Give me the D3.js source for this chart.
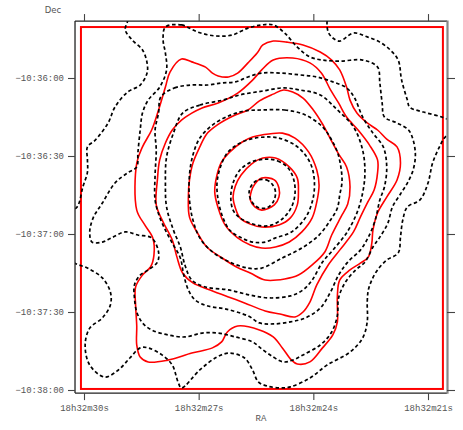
<!DOCTYPE html>
<html><head><meta charset="utf-8">
<script src="https://cdn.jsdelivr.net/npm/d3@7"></script>
<style>html,body{margin:0;padding:0;background:#fff;} svg{display:block;}</style>
</head><body>
<svg id="chart" width="463" height="430"></svg>
<script>
// RA: seconds past 18h32m ; Dec: arcsec south of -10°36'00"
const raTicks = [30, 27, 24, 21];
const raTickLabels = ["18h32m30s", "18h32m27s", "18h32m24s", "18h32m21s"];
const decTicks = [0, 30, 60, 90, 120];
const decTickLabels = ["\u221210:36:00", "\u221210:36:30", "\u221210:37:00", "\u221210:37:30", "\u221210:38:00"];
const raLimits = [30.235, 20.503];
const decLimits = [-21.9, 121.2];
const footprintRA = [30.08, 20.61];
const footprintDec = [-19.6, 119.6];

// red (solid) contours, inner to outer
const R1 = [[25.35,38.5],[25.02,39.2],[24.90,42.3],[24.90,45.8],[25.02,48.8],[25.35,50.8],[25.53,49.6],[25.65,46.9],[25.62,43.5],[25.53,40.8]];
const R2 = [[25.32,30.8],[24.99,30.8],[24.63,34.2],[24.42,38.5],[24.39,43.8],[24.42,48.8],[24.60,53.8],[24.90,56.5],[25.35,57.3],[25.65,56.2],[25.92,53.8],[26.04,50.0],[26.10,45.8],[26.04,41.5],[25.89,37.3],[25.62,33.1]];
const R3 = [[25.35,21.9],[24.81,21.2],[24.48,23.1],[24.12,28.5],[23.91,35.4],[23.85,41.2],[23.91,47.7],[24.03,53.8],[24.30,59.2],[24.63,63.1],[24.99,65.0],[25.35,65.4],[25.65,64.2],[25.98,61.5],[26.31,56.5],[26.49,50.0],[26.58,43.8],[26.52,37.3],[26.40,32.3],[26.19,28.5],[25.86,24.6],[25.59,22.7]];
const R4 = [[25.71,12.3],[25.41,8.8],[25.05,6.2],[24.78,4.6],[24.54,5.4],[24.27,7.7],[24.00,12.3],[23.76,17.7],[23.55,23.5],[23.34,29.2],[23.13,34.2],[23.04,41.9],[23.10,48.5],[23.28,53.5],[23.52,60.4],[23.70,66.9],[24.03,71.9],[24.39,75.8],[24.75,77.3],[25.26,77.7],[25.65,75.0],[26.01,72.7],[26.43,68.8],[26.79,65.0],[27.03,59.6],[27.24,53.5],[27.27,45.8],[27.24,39.2],[27.15,32.7],[26.97,26.5],[26.79,21.5],[26.52,18.1],[26.10,14.6]];
const R5 = [[27.69,20.0],[27.45,16.2],[27.18,13.5],[26.91,11.5],[26.49,9.6],[25.98,5.8],[25.59,0.8],[25.35,-3.1],[25.05,-6.9],[24.54,-7.7],[24.09,-5.8],[23.79,-1.9],[23.55,4.6],[23.34,9.6],[23.13,15.0],[22.83,20.0],[22.53,25.8],[22.32,31.5],[22.32,36.5],[22.41,43.1],[22.59,48.1],[22.77,53.5],[22.95,59.2],[23.31,66.2],[23.61,71.9],[23.91,79.6],[24.09,86.2],[24.27,90.0],[24.48,91.9],[24.87,90.8],[25.26,89.6],[25.80,86.5],[26.22,84.2],[26.70,81.5],[27.15,78.8],[27.42,75.0],[27.57,68.8],[27.69,62.3],[27.93,55.4],[28.11,48.8],[28.08,39.2],[28.02,31.5],[27.87,25.0]];
const R6 = [[28.62,50.8],[28.62,32.7],[28.47,26.5],[28.23,20.0],[28.05,12.3],[27.87,3.5],[27.75,-2.3],[27.45,-7.3],[27.18,-6.2],[26.82,-4.2],[26.64,-1.9],[26.49,-0.8],[26.22,-0.4],[25.98,-1.9],[25.71,-5.8],[25.47,-9.6],[25.32,-12.7],[25.05,-14.2],[24.69,-13.8],[24.27,-12.7],[23.82,-10.0],[23.52,-6.9],[23.31,-3.1],[23.13,3.5],[23.04,8.5],[22.86,13.5],[22.59,17.3],[22.32,20.0],[22.08,23.5],[21.81,26.5],[21.72,32.7],[21.81,39.2],[22.08,45.8],[22.32,51.9],[22.44,58.5],[22.47,63.5],[22.56,68.8],[22.77,71.2],[23.04,73.8],[23.31,77.7],[23.37,83.5],[23.37,88.5],[23.37,93.8],[23.49,98.8],[23.76,103.8],[24.09,109.2],[24.42,110.0],[24.57,108.5],[24.81,103.8],[25.05,99.6],[25.41,96.9],[25.98,95.4],[26.25,97.7],[26.40,101.5],[26.64,103.8],[27.18,105.8],[27.81,108.5],[28.32,109.2],[28.53,107.3],[28.62,102.7],[28.62,95.4],[28.65,87.3],[28.65,80.4],[28.47,75.8],[28.26,72.7],[28.17,68.1],[28.20,61.5],[28.41,56.5]];

// black (dashed) contours, inner to outer
const D1 = [[25.44,39.2],[25.23,39.2],[25.08,40.8],[24.99,43.8],[25.05,47.7],[25.23,50.0],[25.47,49.6],[25.62,47.3],[25.68,43.8],[25.59,40.8]];
const D2 = [[25.26,31.2],[24.93,31.9],[24.66,34.6],[24.51,39.2],[24.48,44.6],[24.57,49.6],[24.78,53.8],[25.08,56.5],[25.35,56.9],[25.65,55.8],[25.92,53.8],[26.10,50.8],[26.16,45.8],[26.10,40.4],[25.92,35.4],[25.62,32.3]];
const D3 = [[25.26,22.7],[24.90,23.1],[24.48,25.8],[24.21,29.6],[24.03,34.6],[23.97,41.2],[24.03,47.7],[24.21,53.8],[24.57,59.2],[24.99,61.5],[25.26,63.1],[25.59,63.1],[25.92,61.2],[26.19,58.5],[26.37,53.5],[26.49,46.9],[26.52,40.4],[26.43,34.2],[26.25,28.8],[26.01,25.8],[25.65,23.5]];
const D4 = [[25.35,12.3],[24.75,12.3],[24.21,14.2],[23.76,18.8],[23.55,23.1],[23.37,28.5],[23.28,34.2],[23.25,40.0],[23.31,45.0],[23.37,50.0],[23.55,54.6],[23.85,60.4],[24.30,65.4],[24.81,69.2],[25.35,73.1],[25.71,73.1],[26.19,70.8],[26.64,66.9],[26.97,61.5],[27.15,54.6],[27.24,46.9],[27.24,37.3],[27.15,29.6],[26.97,23.1],[26.64,18.1],[26.22,14.6],[25.80,12.7]];
const D5 = [[27.42,13.5],[26.97,10.4],[26.37,8.5],[25.92,6.5],[25.32,5.0],[24.78,3.8],[24.36,4.6],[23.82,6.5],[23.37,12.3],[22.95,18.8],[22.71,27.7],[22.65,36.5],[22.71,44.2],[22.86,51.9],[23.13,59.6],[23.49,66.2],[23.76,70.8],[24.03,77.7],[24.27,81.5],[24.60,83.8],[25.14,84.6],[25.65,83.5],[26.22,81.5],[26.82,80.4],[27.18,77.7],[27.36,71.9],[27.48,65.0],[27.66,58.5],[27.84,49.6],[27.87,40.4],[27.84,30.4],[27.66,21.2]];
const D6 = [[27.99,7.3],[27.63,3.8],[27.18,2.7],[26.76,2.7],[26.40,1.9],[26.04,1.5],[25.71,-0.4],[25.35,-1.9],[24.87,-1.9],[24.36,-1.2],[23.91,-0.4],[23.49,1.5],[23.13,3.8],[22.92,7.7],[22.71,15.0],[22.44,21.2],[22.17,26.5],[22.08,34.2],[22.14,41.9],[22.26,46.9],[22.38,54.6],[22.56,61.2],[22.77,66.2],[23.10,70.8],[23.34,75.8],[23.55,82.3],[23.82,88.5],[24.21,92.3],[24.60,93.8],[25.05,94.6],[25.41,94.2],[25.71,91.5],[26.31,88.8],[26.76,87.7],[27.09,85.4],[27.27,81.5],[27.39,75.8],[27.48,69.2],[27.69,63.5],[27.87,58.5],[28.02,53.5],[28.14,46.9],[28.14,37.3],[28.11,27.7],[28.14,20.0],[28.05,13.5]];
const D7 = [[27.87,-19.6],[27.45,-20.4],[27.03,-17.7],[26.58,-16.2],[26.13,-16.5],[25.71,-19.2],[25.35,-20.4],[25.05,-20.4],[24.75,-17.3],[24.42,-11.9],[24.09,-8.1],[23.76,-6.9],[23.31,-6.5],[22.71,-6.9],[22.32,-4.2],[22.26,1.9],[22.20,9.6],[22.14,15.0],[21.81,17.3],[21.51,20.0],[21.39,23.8],[21.33,29.6],[21.39,35.4],[21.54,40.4],[21.72,44.6],[21.93,49.6],[22.05,55.8],[22.26,61.2],[22.44,65.0],[22.65,70.8],[22.89,73.8],[23.16,78.5],[23.34,84.6],[23.37,91.2],[23.52,97.7],[23.82,102.7],[24.27,106.5],[24.54,108.5],[24.78,109.2],[25.05,107.3],[25.35,104.2],[25.59,101.5],[26.04,99.6],[26.49,98.1],[26.91,98.1],[27.36,99.6],[27.81,98.8],[28.23,96.9],[28.47,94.2],[28.62,90.0],[28.68,84.6],[28.68,79.6],[28.53,75.8],[28.32,73.8],[28.08,70.8],[28.05,66.9],[28.23,61.5],[28.59,60.4],[28.92,59.2],[29.28,61.5],[29.52,63.1],[29.79,63.1],[29.85,59.2],[29.76,53.8],[29.52,48.1],[29.19,40.4],[28.86,36.5],[28.62,34.2],[28.59,28.8],[28.53,20.0],[28.47,13.5],[28.32,8.5],[28.02,3.5],[27.84,-3.1],[27.87,-9.6],[27.93,-14.6]];
const D8 = [[23.55,-26.9],[23.64,-21.9],[23.61,-17.7],[23.49,-15.4],[23.31,-14.2],[22.95,-17.3],[22.59,-15.8],[22.26,-13.8],[21.99,-10.8],[21.78,-6.9],[21.69,0.8],[21.54,8.5],[21.48,11.2],[21.12,13.1],[20.64,15.0],[20.37,16.9],[20.22,19.2],[20.37,21.5],[20.55,22.7],[20.70,26.5],[20.88,32.7],[21.00,40.4],[21.21,46.9],[21.54,49.6],[21.66,54.6],[21.72,61.2],[21.78,67.3],[22.08,70.0],[22.32,73.8],[22.47,77.7],[22.56,81.5],[22.59,86.2],[22.59,93.8],[22.71,100.0],[23.04,105.4],[23.64,110.4],[24.09,115.4],[24.60,118.8],[24.87,119.2],[25.20,118.5],[25.44,116.9],[25.59,112.3],[25.80,107.7],[26.19,105.8],[26.52,107.3],[26.97,112.3],[27.45,119.2],[27.54,116.9],[27.69,110.4],[27.96,106.5],[28.32,103.8],[28.53,103.8],[28.80,107.7],[29.10,112.3],[29.46,115.0],[29.85,110.4],[29.97,102.7],[29.85,96.2],[29.52,92.3],[29.31,87.3],[29.31,82.3],[29.52,76.9],[29.91,73.1],[30.24,71.2],[30.48,68.1],[30.48,52.7],[30.18,49.6],[30.03,41.9],[29.91,36.2],[29.91,31.5],[29.91,26.5],[29.70,23.8],[29.37,17.3],[29.19,11.2],[28.86,5.4],[28.53,2.7],[28.35,-1.9],[28.35,-5.8],[28.47,-10.8],[28.74,-14.6],[28.92,-18.5],[28.86,-21.9],[28.80,-26.9],[26.19,-30.0]];

const redContours = [R1, R2, R3, R4, R5, R6];
const blackContours = [D1, D2, D3, D4, D5, D6, D7, D8];

const svg = d3.select("#chart");
const x = d3.scaleLinear().domain([30, 21]).range([84, 428]);
const y = d3.scaleLinear().domain([0, 120]).range([78, 390]);

const x0 = x(raLimits[0]), x1 = x(raLimits[1]);
const y0 = y(decLimits[0]), y1 = y(decLimits[1]);

svg.append("rect").attr("width", 463).attr("height", 430).attr("fill", "#fff");

svg.append("clipPath").attr("id", "plotclip")
  .append("rect").attr("x", x0).attr("y", y0).attr("width", x1 - x0).attr("height", y1 - y0);

const line = d3.line().x(d => x(d[0])).y(d => y(d[1]))
  .curve(d3.curveCatmullRomClosed.alpha(0.5));

const plot = svg.append("g").attr("clip-path", "url(#plotclip)");

// footprint (red frame)
plot.append("rect")
  .attr("x", x(footprintRA[0])).attr("y", y(footprintDec[0]))
  .attr("width", x(footprintRA[1]) - x(footprintRA[0]))
  .attr("height", y(footprintDec[1]) - y(footprintDec[0]))
  .attr("fill", "none").attr("stroke", "#ff0000").attr("stroke-width", 2);

plot.selectAll("path.red").data(redContours).join("path")
  .attr("class", "red").attr("d", line)
  .attr("fill", "none").attr("stroke", "#ff0000").attr("stroke-width", 1.6)
  .attr("stroke-linejoin", "round");

plot.selectAll("path.blk").data(blackContours).join("path")
  .attr("class", "blk").attr("d", line)
  .attr("fill", "none").attr("stroke", "#000").attr("stroke-width", 1.7)
  .attr("stroke-dasharray", "3.5,2.6");

// frame
svg.append("line").attr("x1", x0).attr("x2", x1).attr("y1", y0).attr("y2", y0).attr("stroke", "#222").attr("stroke-width", 1.3);
svg.append("line").attr("x1", x0).attr("x2", x1).attr("y1", y1).attr("y2", y1).attr("stroke", "#222").attr("stroke-width", 1.3);
svg.append("line").attr("x1", x0).attr("x2", x0).attr("y1", y0).attr("y2", y1).attr("stroke", "#222").attr("stroke-width", 1.3);
svg.append("line").attr("x1", x1 + 0.5).attr("x2", x1 + 0.5).attr("y1", y0 - 0.6).attr("y2", y1 + 0.6).attr("stroke", "#888").attr("stroke-width", 2.2);

// axes
function styleAxis(g) {
  g.select(".domain").remove();
  g.selectAll(".tick line").attr("stroke", "#444").attr("stroke-width", 1.1);
  g.selectAll(".tick text").attr("fill", "#555")
    .attr("font-family", "'Liberation Mono','Courier New',monospace").attr("font-size", 9);
}
svg.append("g").attr("transform", `translate(0,${y1})`)
  .call(d3.axisBottom(x).tickValues(raTicks).tickFormat((d, i) => raTickLabels[i]).tickSize(7).tickPadding(5))
  .call(styleAxis);
svg.append("g").attr("transform", `translate(0,${y0})`)
  .call(d3.axisTop(x).tickValues(raTicks).tickFormat("").tickSize(7))
  .call(styleAxis);
svg.append("g").attr("transform", `translate(${x0},0)`)
  .call(d3.axisLeft(y).tickValues(decTicks).tickFormat((d, i) => decTickLabels[i]).tickSize(7).tickPadding(4))
  .call(styleAxis);
svg.append("g").attr("transform", `translate(${x1},0)`)
  .call(d3.axisRight(y).tickValues(decTicks).tickFormat("").tickSize(8))
  .call(styleAxis);

svg.append("text").attr("x", 53).attr("y", 13).attr("text-anchor", "middle")
  .attr("font-family", "'DejaVu Sans',sans-serif").attr("font-size", 8.5).attr("fill", "#555").text("Dec");
svg.append("text").attr("x", (x0 + x1) / 2).attr("y", 421).attr("text-anchor", "middle")
  .attr("font-family", "'Liberation Mono','Courier New',monospace").attr("font-size", 9).attr("fill", "#555").text("RA");
</script>
</body></html>
